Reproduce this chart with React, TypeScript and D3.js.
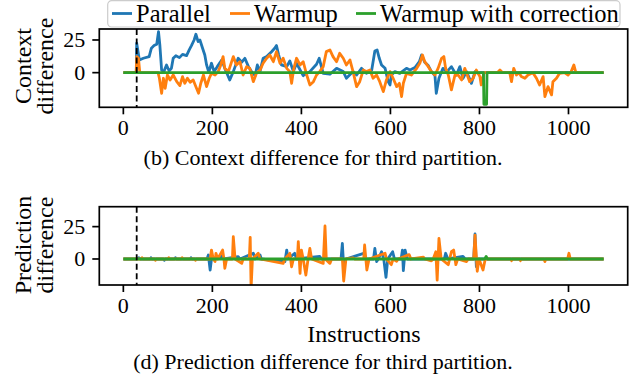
import * as d3 from "d3";

// values, as [instruction, difference]
const parallelContext: [number, number][] = [
  [0, 0], [29, 0], [30, 22.5], [36, 9.7], [45, 11], [58, 12.3], [63, 18.7], [69, 20.7], [75, 21.7],
  [79, 31.4], [82, 21.2], [86, 2], [91, 0.8], [97, 5.9], [103, 1.3], [108, 3.3], [112, 11], [118, 13],
  [126, 11.5], [133, 14], [142, 13], [148, 17.4], [153, 20.7], [159, 25], [163, 29.4], [168, 23.8],
  [172, 25], [178, 18.7], [183, 13.5], [187, 5.9], [192, 0.3], [198, 7.2], [204, 0.8], [211, 4.6],
  [221, 9.7], [228, 3.3], [239, -5.6], [247, 0.8], [258, 11], [266, 8], [273, 11], [281, 4.6],
  [288, 0.8], [296, -2.3], [301, 5.9], [307, 0.8], [314, 11], [322, 12.3], [333, 16], [340, 18.7],
  [344, 20.7], [349, 13.5], [355, 5.9], [367, 4.6], [374, 9], [382, 0.8], [389, 7.2], [404, -2.3],
  [419, 0.8], [434, 6.4], [440, 11], [449, -0.5], [464, -1.2], [479, 3.3], [494, 0.8], [501, -4.3],
  [516, 0.8], [524, -1.8], [535, 3.3], [546, -0.5], [558, 2], [565, 16.6], [570, 17.4], [575, 11],
  [580, 5.9], [588, 3.3], [595, -6.9], [599, -9.4], [602, -1.8], [610, 0.8], [621, -0.5], [636, 3.3],
  [644, 2], [655, 3.9], [665, 8.4], [670, 13.5], [677, 8], [685, 5.4], [692, 0.8], [700, -2.3],
  [703, -15.8], [709, -4.3], [718, 3.3], [727, 0.8], [737, 4.6], [748, -1.8], [756, 4.6], [763, -4.3],
  [771, 0.8], [782, -8.2], [790, 0.8], [797, -0.5], [802, 0], [1079, 0],
];

const warmupContext: [number, number][] = [
  [0, 0], [29, 0], [30, 12.3], [34, 11], [37, 0], [78, 0], [81, -4.3], [86, -15.8], [90, -4.3],
  [94, -12], [99, -1.8], [105, -5.6], [112, -1.8], [120, -6.9], [127, -9.9], [133, -3], [138, -8.1],
  [144, -4.3], [150, -7.4], [157, -5.6], [163, -10.7], [169, -15.8], [174, -8.1], [180, -1.8],
  [187, -10.7], [193, -4.3], [198, -0.5], [206, -1.8], [213, 0.8], [219, 5.9], [224, 12.3], [228, 3.3],
  [236, 0.8], [247, 12.3], [254, 5.9], [262, 8.4], [269, -1.8], [277, 4.6], [284, 3.3], [292, -6.9],
  [299, -0.5], [307, 2], [314, 7.2], [322, 11], [329, 13.5], [337, 8.4], [344, 16.1], [352, 7.2],
  [359, 11], [367, 3.3], [374, 0.8], [378, -8.1], [383, 3.3], [389, 11], [397, 5.9], [404, 8.4],
  [412, -1.8], [419, -9.4], [427, -6.9], [434, -1.8], [441, 0.8], [449, 4.6], [456, 16.1], [464, 17.4],
  [471, 12.3], [479, 8.4], [486, 14.8], [494, 11], [501, 5.9], [509, 9.7], [516, 0.8], [524, -10.7],
  [531, -6.9], [539, 2], [546, 0.8], [554, 2], [561, -4.3], [569, -1.8], [576, -6.9], [584, -14.5],
  [591, -5.6], [599, 0.8], [606, -4.3], [614, -10.7], [620, -8.1], [625, -18.3], [629, -8.1],
  [636, -0.5], [647, -1.8], [659, 3.3], [666, 7.2], [672, 13.5], [677, 8.4], [685, 4.6], [692, 0.8],
  [700, -1.8], [707, 3.3], [715, 11], [720, 12.3], [724, 3.3], [730, -1.8], [737, -13.2], [745, -1.8],
  [752, -1.8], [760, -5.6], [767, 3.3], [778, -6.9], [786, -4.3], [793, 2], [801, -3], [804, -9.4],
  [810, 0], [840, 0], [846, 2], [852, 0], [868, 0], [872, -6.9], [877, 3.3], [883, -1.8], [889, 0],
  [894, -3], [902, -4.3], [909, -1.8], [920, 0], [928, -4.3], [935, -9.4], [943, -3], [947, -18.3],
  [954, -10.7], [962, -17], [965, -6.9], [973, -4.3], [980, -0.5], [991, 0], [999, -1.8], [1006, 0.8],
  [1012, 5.9], [1016, 0.8], [1019, 0], [1079, 0],
];

const correctedContext: [number, number][] = [
  [0, 0], [809, 0], [810, -24.2], [816, -24.2], [817, 0], [1079, 0],
];

const parallelPrediction: [number, number][] = [
  [0, 0], [30, 0], [35, 1], [38, 0], [60, 0], [62, 1], [64, 0], [90, 0], [92, -1], [94, 0], [115, 0],
  [117, 1], [119, 0], [150, 0], [152, 1], [154, 0], [188, 0], [191, 3.1], [195, -8.5], [198, 0],
  [213, 0.5], [223, 2.3], [226, 0], [258, 1.8], [262, 0], [292, 4.4], [296, 0], [307, 3.1], [310, 0],
  [363, -2], [367, 6.9], [370, 0], [385, 4.4], [389, 0], [441, 2], [445, 0], [489, 0], [492, 12.1],
  [495, -6], [500, 0], [540, 4.4], [545, 0], [562, 0], [565, 8.2], [569, -2], [573, 0], [580, 5.6],
  [585, 0], [590, -14.2], [594, 0], [605, 5.6], [609, 0], [624, 0], [627, 6.9], [629, -9], [633, 6.9],
  [638, 0], [721, 0], [724, 4.4], [729, 0], [763, 2], [768, 0], [787, 0], [790, 19.3], [793, -6],
  [798, 0], [1079, 0],
];

const warmupPrediction: [number, number][] = [
  [0, 0], [40, 0], [42, 1], [44, 0], [70, 0], [72, -1], [74, 0], [100, 0], [102, 1], [104, 0],
  [130, 0], [132, 1], [134, 0], [160, 0], [162, -1], [164, 0], [195, 0], [198, 6.9], [202, 0],
  [206, -2], [208, 4.4], [212, 0], [223, 6.9], [226, 0], [228, -7.2], [232, 0], [245, 0], [247, 17.2],
  [251, 0], [266, -3.4], [269, 0], [283, 0], [285, 16.7], [287, -22.7], [290, 0], [303, 4.4],
  [307, 0], [359, -3.4], [363, 0], [374, 4.4], [378, -6], [382, 0], [391, 0], [393, 13.4],
  [397, -11.1], [400, 6.9], [404, 0], [410, -12.4], [415, 0], [419, 8.2], [423, 0], [449, -3.4],
  [453, 25.5], [456, -0.8], [464, -3.4], [468, 0], [492, 0], [495, -17], [500, 0], [516, 0.8],
  [520, 0], [540, 0], [542, 10.8], [547, -8.5], [552, 0], [588, 4.4], [591, 0], [602, -4.4], [606, 0],
  [614, -1.8], [617, 0], [642, 3.4], [646, 0], [674, 1.5], [677, 0], [692, -1.5], [696, 0],
  [702, 5.6], [705, -16.3], [709, 16], [714, 0], [730, -4.4], [733, 0], [737, 5.6], [742, 6.9],
  [747, -4.4], [751, 0], [771, -2], [775, 0], [787, 0], [790, 18.5], [795, -9.5], [799, 0],
  [808, -8.5], [813, 0], [870, 0], [872, -1.3], [874, 0], [890, 0], [892, -1.3], [894, 0], [945, 0],
  [947, -2], [949, 0], [998, 0], [1001, 4.4], [1004, 0], [1079, 0],
];

const correctedPrediction: [number, number][] = [
  [0, 0], [812, 0], [815, 2], [818, 0], [1079, 0],
];

const warmupStart = 30;
const xTicks = [0, 200, 400, 600, 800, 1000];
const yTicks = [0, 25];
const seriesNames = ["Parallel", "Warmup", "Warmup with correction"];
const colors = ["#1f77b4", "#ff7f0e", "#2ca02c"];

const font = "'Liberation Serif', 'DejaVu Serif', serif";
const tickFs = 22;
const labelFs = 24;
const legendFs = 24.5;
const captionFs = 22;

const x = d3.scaleLinear().domain([-54, 1133]).range([99.3, 627.7]);

type PanelProps = {
  id: string;
  top: number;
  bottom: number;
  yDomain: [number, number];
  series: [number, number][][];
  label: string[];
  labelY: number;
};

function Panel({ id, top, bottom, yDomain, series, label, labelY }: PanelProps) {
  const y = d3.scaleLinear().domain(yDomain).range([bottom, top]);
  const line = d3
    .line<[number, number]>()
    .x((d) => x(d[0]))
    .y((d) => y(d[1]));
  const [x0, x1] = x.range();

  return (
    <g>
      <defs>
        <clipPath id={id}>
          <rect x={x0} y={top} width={x1 - x0} height={bottom - top} />
        </clipPath>
      </defs>
      <g clipPath={`url(#${id})`}>
        {series.map((s, i) => (
          <path
            key={i}
            d={line(s) ?? ""}
            fill="none"
            stroke={colors[i]}
            strokeWidth={2.8}
            strokeLinejoin="round"
          />
        ))}
        <line
          x1={x(warmupStart)}
          x2={x(warmupStart)}
          y1={top}
          y2={bottom}
          stroke="black"
          strokeWidth={1.8}
          strokeDasharray="6,3.5"
        />
      </g>
      <rect x={x0} y={top} width={x1 - x0} height={bottom - top} fill="none" stroke="black" strokeWidth={1.7} />
      {xTicks.map((t) => (
        <g key={t}>
          <line x1={x(t)} x2={x(t)} y1={bottom} y2={bottom + 7} stroke="black" strokeWidth={1.7} />
          <text x={x(t)} y={bottom + 28} textAnchor="middle" fontSize={tickFs} fontFamily={font}>
            {t}
          </text>
        </g>
      ))}
      {yTicks.map((t) => (
        <g key={t}>
          <line x1={x0 - 7} x2={x0} y1={y(t)} y2={y(t)} stroke="black" strokeWidth={1.7} />
          <text x={x0 - 14} y={y(t) + 7.5} textAnchor="end" fontSize={tickFs} fontFamily={font}>
            {t}
          </text>
        </g>
      ))}
      {label.map((l, i) => (
        <text
          key={l}
          transform={`translate(${31 + i * 22},${labelY}) rotate(-90)`}
          textAnchor="middle"
          fontSize={labelFs}
          fontFamily={font}
        >
          {l}
        </text>
      ))}
    </g>
  );
}

const legendX = [112, 230, 356];

export default function App() {
  return (
    <svg
      width={634}
      height={381}
      style={{ position: "absolute", left: 0, top: 0, background: "white" }}
    >
      <Panel
        id="clipTop"
        top={29}
        bottom={107.3}
        yDomain={[-26.5, 33.4]}
        series={[parallelContext, warmupContext, correctedContext]}
        label={["Context", "difference"]}
        labelY={66}
      />
      <Panel
        id="clipBottom"
        top={206.7}
        bottom={285}
        yDomain={[-20.1, 40.4]}
        series={[parallelPrediction, warmupPrediction, correctedPrediction]}
        label={["Prediction", "difference"]}
        labelY={245}
      />
      <text x={364} y={342} textAnchor="middle" fontSize={labelFs} fontFamily={font}>
        Instructions
      </text>
      <text x={323} y={165} textAnchor="middle" fontSize={captionFs} fontFamily={font}>
        (b) Context difference for third partition.
      </text>
      <text x={323} y={369} textAnchor="middle" fontSize={captionFs} fontFamily={font}>
        (d) Prediction difference for third partition.
      </text>

      <rect x={107.7} y={0.7} width={512.3} height={26.3} rx={4} fill="white" fillOpacity={0.8} stroke="#cccccc" strokeWidth={1.2} />
      {seriesNames.map((name, i) => (
        <g key={name}>
          <line x1={legendX[i]} x2={legendX[i] + 20} y1={13.5} y2={13.5} stroke={colors[i]} strokeWidth={2.8} />
          <text x={legendX[i] + 24} y={21.5} fontSize={legendFs} fontFamily={font}>
            {name}
          </text>
        </g>
      ))}
    </svg>
  );
}
